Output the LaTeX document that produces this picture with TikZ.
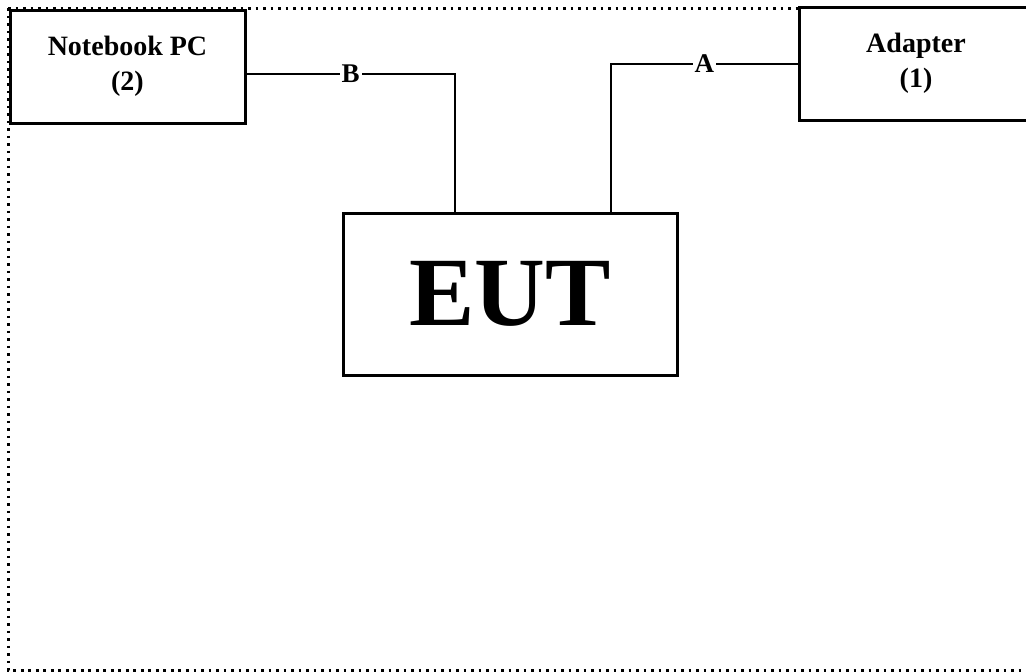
\documentclass[tikz,border=0pt]{standalone}
\usepackage{fontspec}
\setmainfont{Liberation Serif}
\begin{document}
\begin{tikzpicture}[x=1pt,y=-1pt,
  devbox/.style={draw=black,line width=3pt,inner sep=0pt,font=\bfseries\fontsize{28}{35}\selectfont,align=center},
  wire/.style={draw=black,line width=2.8pt},
  cablelabel/.style={fill=white,inner sep=2pt,font=\bfseries\fontsize{27}{30}\selectfont},
  border/.style={draw=black,line width=3pt,dash pattern=on 2.6pt off 4.9pt}]
\useasboundingbox (0,0) rectangle (1026,672);
\clip (0,0) rectangle (1026,672);
\draw[border] (8,8) -- (8,670) -- (1040,670);
\draw[border] (8,8) -- (1040,8);
\node[devbox,minimum width=235pt,minimum height=113pt,fill=white] (nb) at (127.5,66.5) {Notebook PC\\(2)};
\node[devbox,minimum width=234pt,minimum height=113pt,fill=white] (ad) at (916,63.5) {Adapter\\(1)};
\node[devbox,minimum width=334pt,minimum height=162pt,font=\bfseries\fontsize{98}{100}\selectfont] (eut) at (510,294) {EUT};
\coordinate (bj) at (455,74);
\coordinate (aj) at (611,64);
\draw[wire] (nb.east |- bj) -- node[cablelabel] {B} (bj) -- (bj |- eut.north);
\draw[wire] (eut.north -| aj) -- (aj) -- node[cablelabel] {A} (ad.west |- aj);
\end{tikzpicture}
\end{document}
